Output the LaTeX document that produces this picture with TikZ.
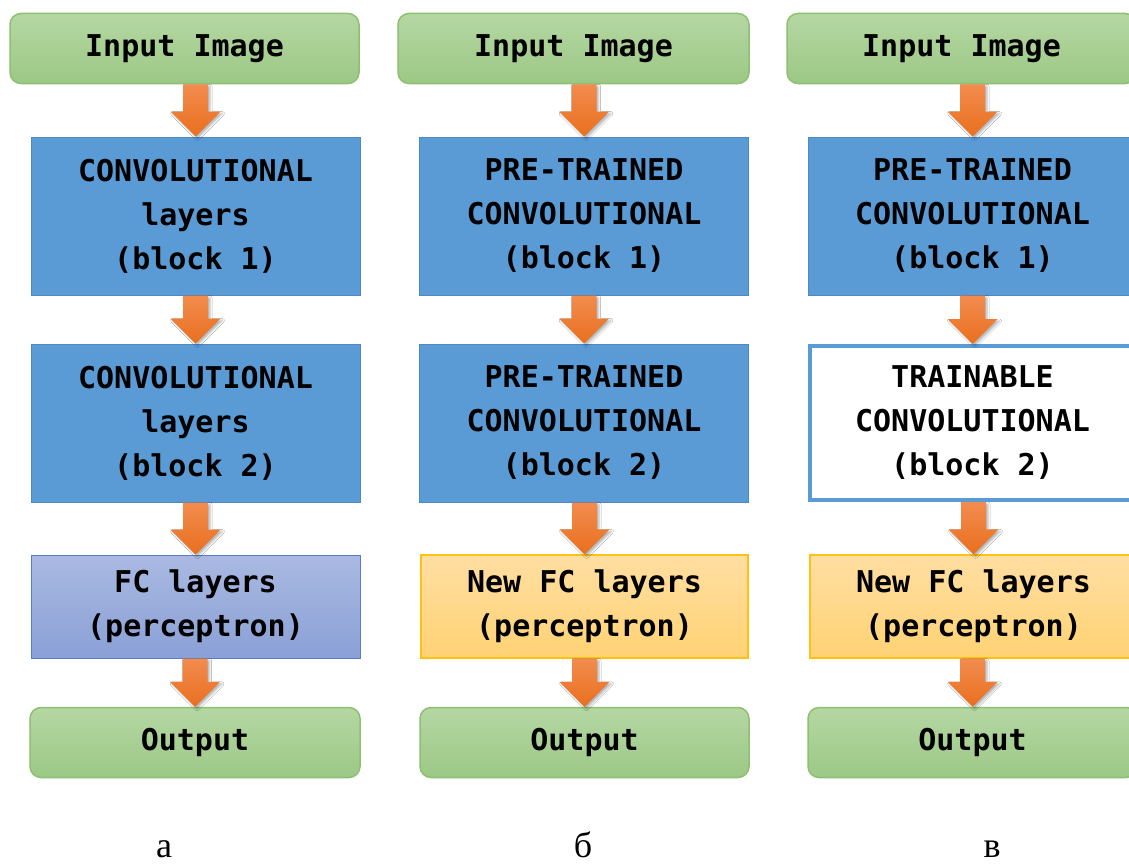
\documentclass[tikz,border=0pt]{standalone}
\usepackage{fontspec}
\setmonofont{DejaVu Sans Mono}
\newfontfamily\capfont{Liberation Serif}
\usetikzlibrary{calc,shadows.blur}

\definecolor{greenTop}{HTML}{B5D7A3}
\definecolor{greenBot}{HTML}{9CC885}
\definecolor{greenLine}{HTML}{8DC071}
\definecolor{convBlue}{HTML}{5B9BD5}
\definecolor{convLine}{HTML}{4E89C4}
\definecolor{fcTop}{HTML}{A9B9E1}
\definecolor{fcBot}{HTML}{8AA0D6}
\definecolor{fcLine}{HTML}{5A7BC9}
\definecolor{newTop}{HTML}{FFDEA2}
\definecolor{newBot}{HTML}{FFD273}
\definecolor{newLine}{HTML}{FFC114}
\definecolor{arrTop}{HTML}{F28C4E}
\definecolor{arrBot}{HTML}{E96F1E}

\tikzset{
  boxtext/.style={font=\fontsize{30}{44}\selectfont\ttfamily\bfseries, align=center, text=black, inner sep=0pt},
  ioblock/.style={boxtext, rounded corners=11pt, top color=greenTop, bottom color=greenBot,
    draw=greenLine, line width=1.5pt, minimum height=70pt},
  convblock/.style={boxtext, fill=convBlue, draw=convLine, line width=1pt,
    minimum width=329pt, minimum height=158pt},
  trainblock/.style={boxtext, fill=white, draw=convBlue, line width=4pt,
    minimum width=325pt, minimum height=154pt},
  fcblock/.style={boxtext, top color=fcTop, bottom color=fcBot, draw=fcLine, line width=1pt,
    minimum width=329pt, minimum height=103pt},
  newfcblock/.style={boxtext, top color=newTop, bottom color=newBot, draw=newLine, line width=1.2pt,
    minimum width=327pt, minimum height=103pt},
  fatarrow/.style={top color=arrTop, bottom color=arrBot,
    blur shadow={shadow xshift=2pt, shadow yshift=-2pt, shadow opacity=30, shadow blur radius=2pt}},
  caption/.style={font=\fontsize{36}{40}\selectfont\capfont, anchor=base, inner sep=0pt}
}

% thick block arrow from the bottom of #1 to the top of #2
\newcommand\flowarrow[2]{%
  \path[fatarrow]
    ($(#2.north |- #1.south)+(-12.5,0)$) --
    ($(#2.north)+(-12.5,-25)$) --
    ($(#2.north)+(-25,-25)$) --
    (#2.north) --
    ($(#2.north)+(25,-25)$) --
    ($(#2.north)+(12.5,-25)$) --
    ($(#2.north |- #1.south)+(12.5,0)$) -- cycle;}

\begin{document}
\begin{tikzpicture}[x=1pt, y=-1pt]
  \path[use as bounding box, clip] (0,0) rectangle (1129,867);
  \fill[white] (0,0) rectangle (1129,867);

  % column a: training from scratch
  \node[ioblock, minimum width=349pt] (inA) at (184.5,48.5) {Input Image};
  \node[convblock] (c1A) at (195.5,216) {CONVOLUTIONAL\\layers\\(block 1)};
  \node[convblock] (c2A) at (195.5,423) {CONVOLUTIONAL\\layers\\(block 2)};
  \node[fcblock] (fcA) at (195.5,606.5) {FC layers\\(perceptron)};
  \node[ioblock, minimum width=330pt] (outA) at (195,742.5) {Output};

  % column b: frozen convolutional base
  \node[ioblock, minimum width=351pt] (inB) at (573.5,48.5) {Input Image};
  \node[convblock] (c1B) at (584,216) {PRE-TRAINED\\CONVOLUTIONAL\\(block 1)};
  \node[convblock] (c2B) at (584,423) {PRE-TRAINED\\CONVOLUTIONAL\\(block 2)};
  \node[newfcblock] (fcB) at (584.5,606.5) {New FC layers\\(perceptron)};
  \node[ioblock, minimum width=329pt] (outB) at (584.5,742.5) {Output};

  % column c: fine-tuning the second block
  \node[ioblock, minimum width=349pt] (inC) at (961.5,48.5) {Input Image};
  \node[convblock] (c1C) at (972.5,216) {PRE-TRAINED\\CONVOLUTIONAL\\(block 1)};
  \node[trainblock] (c2C) at (972.5,423) {TRAINABLE\\CONVOLUTIONAL\\(block 2)};
  \node[newfcblock] (fcC) at (973.5,606.5) {New FC layers\\(perceptron)};
  \node[ioblock, minimum width=329pt] (outC) at (972.5,742.5) {Output};

  \foreach \c in {A,B,C}{
    \flowarrow{in\c}{c1\c}
    \flowarrow{c1\c}{c2\c}
    \flowarrow{c2\c}{fc\c}
    \flowarrow{fc\c}{out\c}
  }

  \node[caption] (capA) at (164,857) {а};
  \node[caption] (capB) at (583,857) {б};
  \node[caption] (capC) at (992,857) {в};
\end{tikzpicture}
\end{document}
